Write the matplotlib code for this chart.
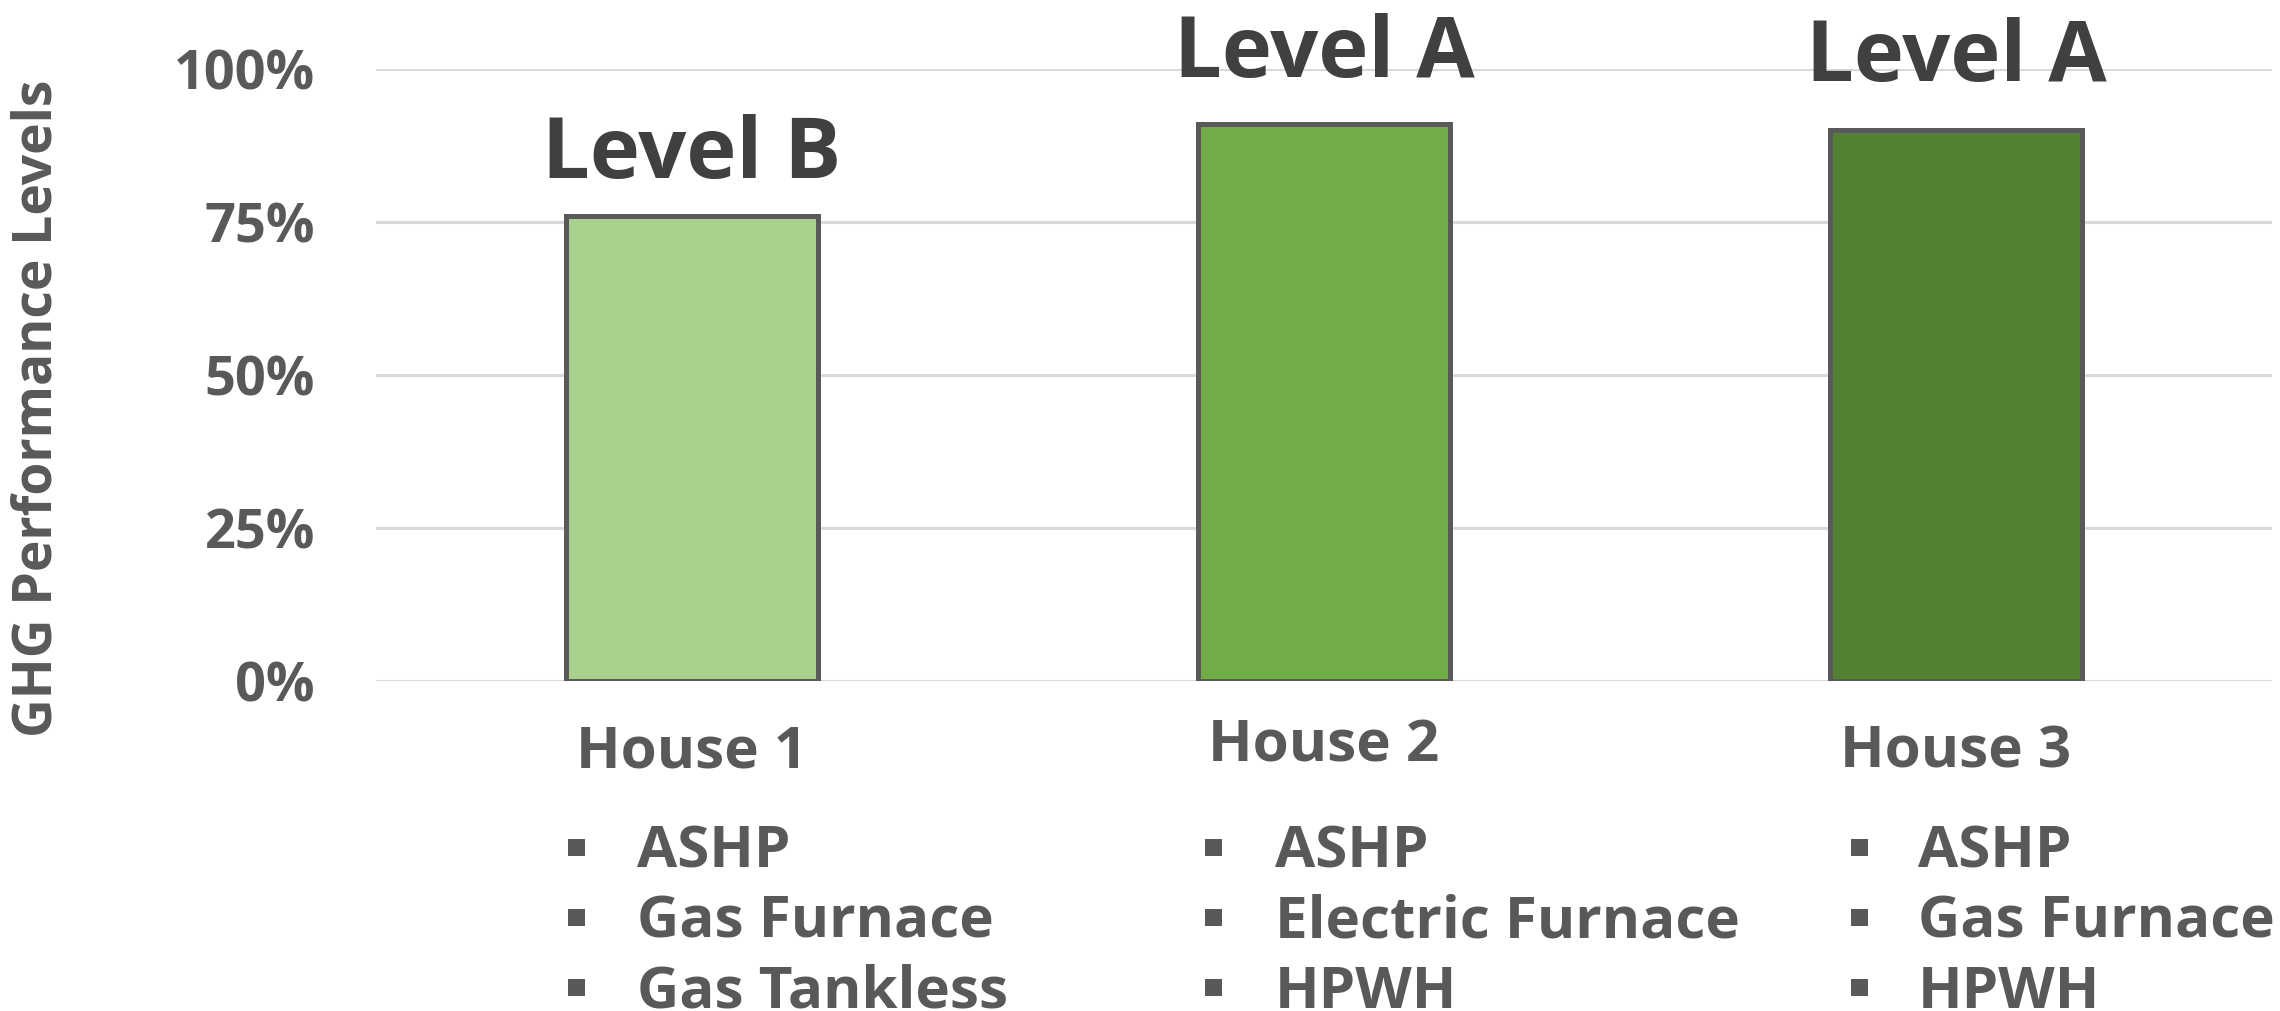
import matplotlib
matplotlib.use("Agg")
import matplotlib.pyplot as plt
from matplotlib.patches import Rectangle

# Data
houses = ["House 1", "House 2", "House 3"]
ghg_levels = [0.76, 0.91, 0.90]
level_labels = ["Level B", "Level A", "Level A"]
equipment = [
    ["ASHP", "Gas Furnace", "Gas Tankless"],
    ["ASHP", "Electric Furnace", "HPWH"],
    ["ASHP", "Gas Furnace", "HPWH"],
]
y_ticks = [0, 0.25, 0.5, 0.75, 1.0]
y_tick_labels = ["0%", "25%", "50%", "75%", "100%"]

# Styling
bar_colors = ["#A9D18E", "#70AD47", "#548235"]
edge_color = "#595959"
text_grey = "#595959"
label_dark = "#404040"
grid_color = "#D9D9D9"
FONT = "Open Sans"

W, H, DPI = 2280, 1011, 100
fig = plt.figure(figsize=(W / DPI, H / DPI), dpi=DPI)


def fx(px):
    return px / W


def fy(py):
    return 1 - py / H


ax = fig.add_axes([fx(376), fy(681), fx(2272) - fx(376), fy(69) - fy(681)])
x = list(range(len(houses)))
ax.bar(x, ghg_levels, width=0.4, color=bar_colors, edgecolor=edge_color,
       linewidth=3.6, zorder=3)
ax.set_xlim(-0.5, 2.5)
ax.set_ylim(0, 1.0)
ax.set_yticks(y_ticks)
ax.set_yticklabels(y_tick_labels, fontfamily=FONT, fontweight="bold",
                   fontsize=39, color=text_grey)
ax.tick_params(axis="y", length=0, pad=44)
ax.set_xticks([])
for s in ax.spines.values():
    s.set_visible(False)
ax.yaxis.grid(True, color=grid_color, linewidth=2.2, zorder=0)
ax.set_axisbelow(True)

# Level labels above bars
label_offsets_px = [38, 47, 49]
for xi, v, lab, off in zip(x, ghg_levels, level_labels, label_offsets_px):
    ax.annotate(lab, xy=(xi, v), xytext=(0, off), textcoords="offset pixels",
                ha="center", va="baseline", fontfamily=FONT,
                fontweight="bold", fontsize=61, color=label_dark,
                annotation_clip=False)

# Y axis title
fig.text(fx(38), fy(408), "GHG Performance Levels", rotation=90,
         ha="center", va="center", fontfamily=FONT, fontweight="bold",
         fontsize=38.5, color=text_grey)

# Category names under the bars
house_baselines = [767, 762, 768]
for xi, name, base in zip(x, houses, house_baselines):
    xf = ax.transData.transform((xi, 0))[0] / W
    fig.text(xf, fy(base), name, ha="center", va="baseline",
             fontfamily=FONT, fontweight="bold", fontsize=42,
             color=text_grey)

# Equipment bullet lists
bullet_left_px = [568, 1205, 1851]
text_left_px = [637, 1275, 1918]
row_baselines = [868, 938, 1008]
sq = 17
for items, bx, tx in zip(equipment, bullet_left_px, text_left_px):
    for item, base in zip(items, row_baselines):
        cy = base - 21
        fig.patches.append(Rectangle((fx(bx), fy(cy + sq / 2)), sq / W, sq / H,
                                     transform=fig.transFigure,
                                     facecolor=text_grey, edgecolor="none"))
        fig.text(fx(tx), fy(base), item, ha="left", va="baseline",
                 fontfamily=FONT, fontweight="bold", fontsize=42,
                 color=text_grey)

fig.savefig("out.png", dpi=DPI, facecolor="white")
